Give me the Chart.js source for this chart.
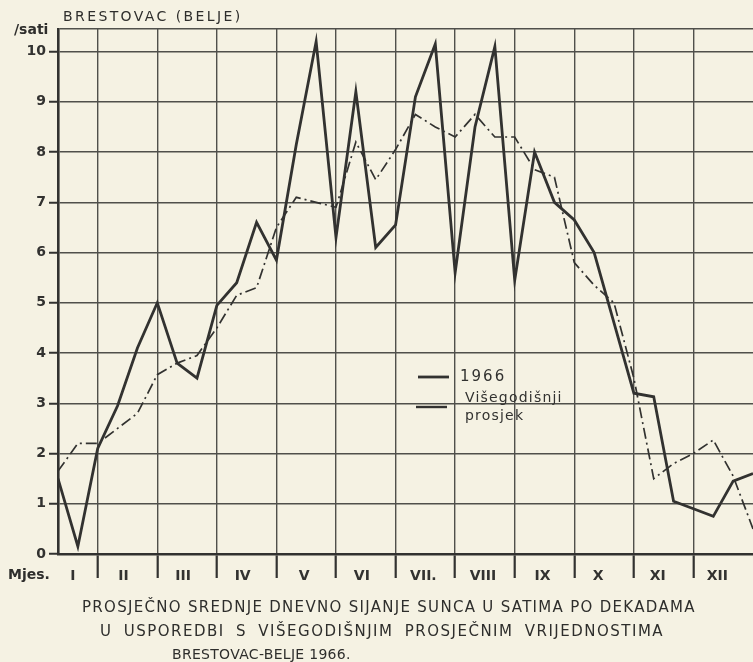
<!DOCTYPE html>
<html>
<head>
<meta charset="utf-8">
<script src="https://cdn.jsdelivr.net/npm/chart.js@4.4.1/dist/chart.umd.min.js"></script>
<style>
    body { margin: 0; background: #f5f2e3; }
    #wrap { position: relative; width: 753px; height: 662px; font-family: "DejaVu Sans", sans-serif; color: #2e2e2c; }
    #wrap canvas { position: absolute; left: 0; top: 0; }
    .txt { position: absolute; white-space: nowrap; }
</style>
</head>
<body>
<div id="wrap">
    <canvas id="chart" width="753" height="662"></canvas>
    <div class="txt" style="left:63px; top:8px; font-size:14px; letter-spacing:2.4px;">BRESTOVAC (BELJE)</div>
    <div class="txt" style="left:14px; top:21px; font-size:14px; font-weight:bold;">/sati</div>
    <div class="txt" style="left:8px; top:566px; font-size:14px; font-weight:bold;">Mjes.</div>
    <div class="txt" style="left:82px; top:598px; font-size:15px; letter-spacing:1.3px;">PROSJEČNO SREDNJE DNEVNO SIJANJE SUNCA U SATIMA PO DEKADAMA</div>
    <div class="txt" style="left:100px; top:622px; font-size:15px; letter-spacing:1.5px; word-spacing:5px;">U USPOREDBI S VIŠEGODIŠNJIM PROSJEČNIM VRIJEDNOSTIMA</div>
    <div class="txt" style="left:172px; top:646px; font-size:14px; letter-spacing:0.3px;">BRESTOVAC-BELJE 1966.</div>
</div>
<script>
// mean daily sunshine (hours) per dekad, 3 dekads per month
const sunshine1966 = [
    1.5, 0.15, 2.1,   2.95, 4.1, 5.0,   3.8, 3.5, 4.95,   5.4, 6.6, 5.85,
    8.15, 10.2, 6.3,  9.2, 6.1, 6.55,   9.1, 10.15, 5.6,  8.5, 10.1, 5.45,
    8.0, 7.0, 6.65,   6.0, 4.6, 3.2,    3.13, 1.05, 0.9,  0.75, 1.45, 1.6
];
const longTermAvg = [
    1.65, 2.2, 2.2,   2.5, 2.8, 3.57,   3.8, 3.95, 4.5,   5.15, 5.3, 6.5,
    7.1, 7.0, 6.9,    8.2, 7.45, 8.05,  8.75, 8.5, 8.3,   8.75, 8.3, 8.3,
    7.65, 7.5, 5.8,   5.35, 5.0, 3.5,   1.5, 1.8, 2.0,    2.27, 1.55, 0.5
];
const monthLabels = ['I', 'II', 'III', 'IV', 'V', 'VI', 'VII.', 'VIII', 'IX', 'X', 'XI', 'XII'];
const monthLabelPos = [0.75, 3.3, 6.3, 9.3, 12.4, 15.3, 18.4, 21.4, 24.4, 27.2, 30.2, 33.2];
const monthBounds = [2, 5, 8, 11, 14, 17, 20, 23, 26, 29, 32];
const hourTicks = [0, 1, 2, 3, 4, 5, 6, 7, 8, 9, 10];
const yTop = 10.45;

const ink = '#323230';
const gridInk = '#50504b';

const legendBox = {
    id: 'legendBox',
    afterDatasetsDraw(chart) {
        const c = chart.ctx;
        c.save();
        c.strokeStyle = ink;
        c.lineCap = 'butt';
        c.lineWidth = 2.8;
        c.beginPath(); c.moveTo(418, 377); c.lineTo(449, 377); c.stroke();
        c.lineWidth = 2.4;
        c.beginPath(); c.moveTo(416, 407); c.lineTo(447, 407); c.stroke();
        c.fillStyle = ink;
        c.textBaseline = 'middle';
        c.font = '15px "DejaVu Sans"';
        c.letterSpacing = '2px';
        c.fillText('1966', 460, 377);
        c.font = '14px "DejaVu Sans"';
        c.letterSpacing = '1.2px';
        c.fillText('Višegodišnji', 465, 398);
        c.fillText('prosjek', 465, 416);
        c.restore();
    }
};

const ctx = document.getElementById('chart').getContext('2d');
const chart = new Chart(ctx, {
    type: 'line',
    data: {
        datasets: [{
            label: '1966',
            data: sunshine1966.map((v, i) => ({ x: i, y: v })),
            borderColor: ink,
            borderWidth: 2.8,
            pointRadius: 0,
            tension: 0
        }, {
            label: 'Višegodišnji prosjek',
            data: longTermAvg.map((v, i) => ({ x: i, y: v })),
            borderColor: ink,
            borderWidth: 1.7,
            borderDash: [11, 4, 2, 4],
            pointRadius: 0,
            tension: 0
        }]
    },
    options: {
        responsive: false,
        animation: false,
        layout: { padding: { top: 29, right: 0, bottom: 78, left: 0 } },
        plugins: { legend: { display: false }, tooltip: { enabled: false } },
        scales: {
            x: {
                type: 'linear',
                min: 0,
                max: 35,
                afterBuildTicks: s => {
                    s.ticks = [...monthBounds, ...monthLabelPos].sort((a, b) => a - b).map(v => ({ value: v }));
                },
                afterFit: s => { s.height = 30; },
                border: { display: true, color: ink, width: 2.4 },
                grid: {
                    color: c => monthBounds.includes(c.tick && c.tick.value) ? gridInk : 'rgba(0,0,0,0)',
                    tickColor: c => monthBounds.includes(c.tick && c.tick.value) ? ink : 'rgba(0,0,0,0)',
                    lineWidth: 1.4,
                    tickLength: 24,
                    tickWidth: 2.2
                },
                ticks: {
                    autoSkip: false,
                    maxRotation: 0,
                    padding: -10,
                    color: ink,
                    font: { family: 'DejaVu Sans', size: 14, weight: 'bold' },
                    callback: v => {
                        const k = monthLabelPos.indexOf(v);
                        return k >= 0 ? monthLabels[k] : '';
                    }
                }
            },
            y: {
                min: 0,
                max: yTop,
                afterBuildTicks: s => {
                    s.ticks = [...hourTicks, yTop].map(v => ({ value: v }));
                },
                afterFit: s => { s.width = 58; },
                border: { display: true, color: ink, width: 2.6 },
                grid: {
                    color: gridInk,
                    lineWidth: 1.5,
                    tickLength: 9,
                    tickWidth: 2,
                    tickColor: c => (c.tick && c.tick.value === yTop) ? 'rgba(0,0,0,0)' : ink
                },
                ticks: {
                    padding: 3,
                    color: ink,
                    font: { family: 'DejaVu Sans', size: 14, weight: 'bold' },
                    callback: v => Number.isInteger(v) ? v : ''
                }
            }
        }
    },
    plugins: [legendBox]
});
</script>
</body>
</html>
